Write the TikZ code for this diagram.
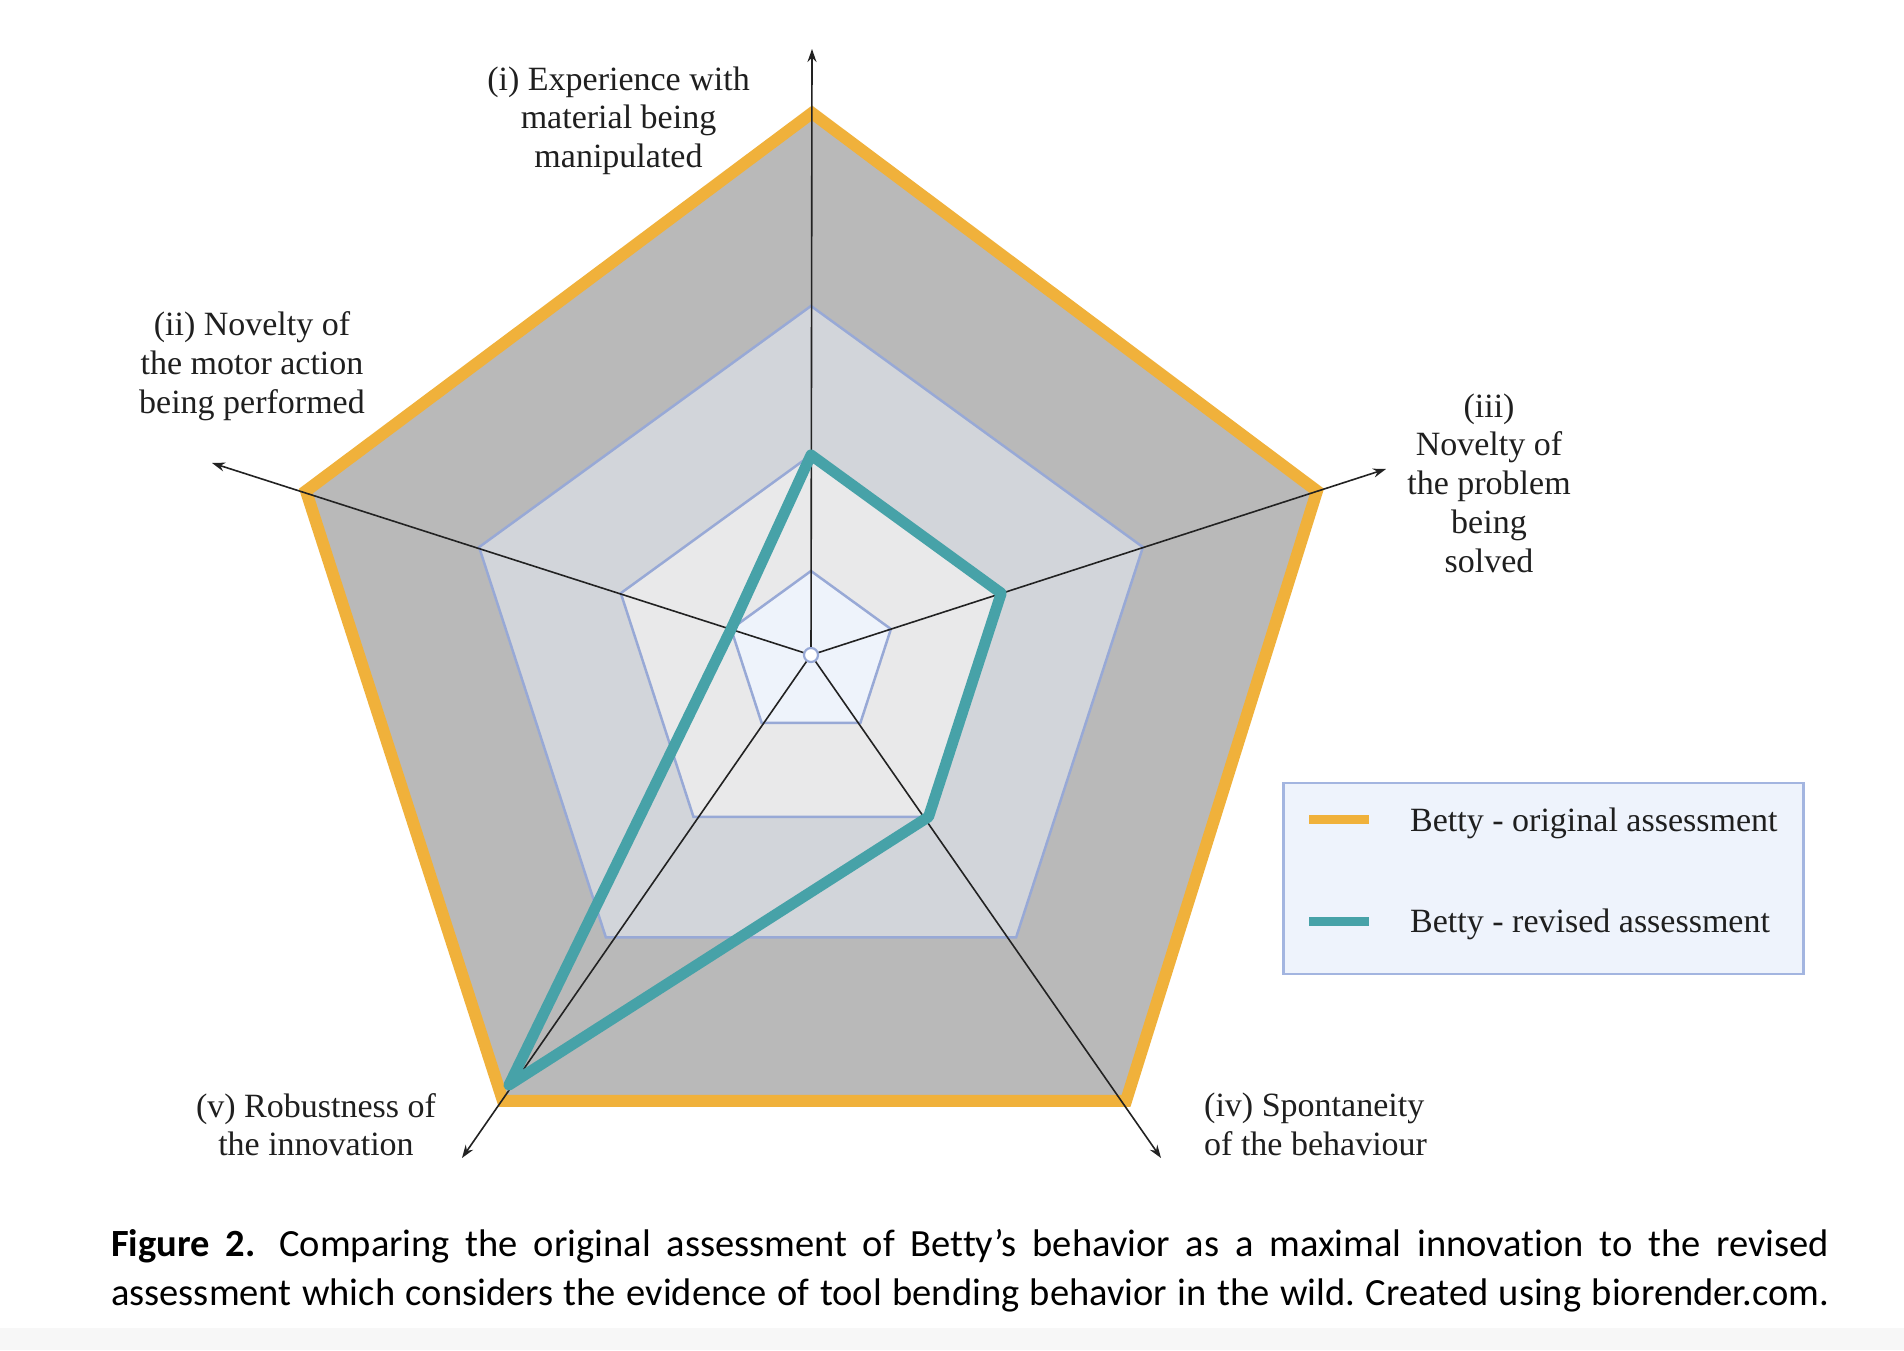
\documentclass[tikz,border=0pt]{standalone}
\usepackage{fontspec}
\setmainfont{Liberation Serif}
\newfontfamily\capfont[Ligatures=NoCommon]{Carlito}
\usetikzlibrary{arrows.meta,calc}
\definecolor{outerfill}{HTML}{B9B9B9}
\definecolor{ringthree}{HTML}{D2D5DA}
\definecolor{ringtwo}{HTML}{E9E9EA}
\definecolor{ringone}{HTML}{EEF3FB}
\definecolor{ringline}{HTML}{98A9D6}
\definecolor{origc}{HTML}{F0B13B}
\definecolor{revc}{HTML}{47A2A8}
\definecolor{legfill}{HTML}{EEF3FC}
\definecolor{legline}{HTML}{A3B5E0}
\definecolor{axisc}{HTML}{222222}
\definecolor{bandc}{HTML}{F7F7F7}
\frenchspacing
\begin{document}
\begin{tikzpicture}[x=1pt,y=1pt,
  ring/.style={draw=ringline,line width=2.5pt,line join=miter},
  axisline/.style={draw=axisc,line width=1.6pt,-{Stealth[length=13pt,width=9pt]}},
  origline/.style={draw=origc,line width=12pt,line join=miter},
  revline/.style={draw=revc,line width=11pt,line join=round},
  axlabel/.style={font=\fontsize{34}{38.7}\selectfont,inner sep=0pt,anchor=north,align=center,text=black!88},
  legtext/.style={font=\fontsize{34}{40}\selectfont,inner sep=0pt,anchor=base west,text=black!88},
  legbox/.style={draw=legline,fill=legfill,line width=2.5pt,inner sep=0pt,anchor=north west},
  capline/.style={font=\capfont\fontsize{38.5}{48}\selectfont,inner sep=0pt,anchor=base west}]
\useasboundingbox (0,0) rectangle (1904,1350);
\fill[white] (0,0) rectangle (1904,1350);
\fill[bandc] (0,0) rectangle (1904,22);
\coordinate (c) at (811,695);
\foreach \n/\r in {t/349,s/200,f/84}{
  \foreach \k/\a in {1/90,2/162,3/18,4/306,5/234}{
    \coordinate (\n\k) at ($(c)+(\a:\r)$);
  }
}
% outer pentagon (maximal values)
\coordinate (o1) at (812,1237);
\coordinate (o2) at (306,859);
\coordinate (o3) at (1317,859);
\coordinate (o4) at (1126,249);
\coordinate (o5) at (503,249);
% axis tips
\coordinate (x1) at (812,1301);
\coordinate (x2) at (212,887);
\coordinate (x3) at (1386,881);
\coordinate (x4) at (1161,192);
\coordinate (x5) at (462,192);
\coordinate (r5) at (509,265);
% rings
\fill[outerfill] (o1)--(o3)--(o4)--(o5)--(o2)--cycle;
\path[fill=ringthree,ring] (t1)--(t3)--(t4)--(t5)--(t2)--cycle;
\path[fill=ringtwo,ring] (s1)--(s3)--(s4)--(s5)--(s2)--cycle;
\path[fill=ringone,ring] (f1)--(f3)--(f4)--(f5)--(f2)--cycle;
% original assessment
\path[origline] (o1)--(o3)--(o4)--(o5)--(o2)--cycle;
% axes
\node[circle,draw=ringline,fill=white,line width=2.2pt,minimum size=14pt,inner sep=0pt] (ctr) at (c) {};
\foreach \k in {1,...,5}{\draw[axisline] (ctr) -- (x\k);}
% revised assessment
\path[revline] (s1)--(s3)--(s4)--(r5)--(f2)--cycle;
% labels
\node[axlabel] (li) at (618.5,1283.5) {(i) Experience with\\material being\\manipulated};
\node[axlabel] (lii) at (252,1038.5) {(ii) Novelty of\\the motor action\\being performed};
\node[axlabel] (liii) at (1489,956.5) {(iii)\\Novelty of\\the problem\\being\\solved};
\node[axlabel,anchor=north west,align=left] (liv) at (1204,257) {(iv) Spontaneity\\of the behaviour};
\node[axlabel] (lv) at (316,257) {(v) Robustness of\\the innovation};
% legend
\node[legbox,minimum width=520pt,minimum height=191pt] (leg) at (1282,568) {};
\coordinate (lo1) at (1309,530);
\coordinate (lo2) at (1369,530);
\coordinate (lr1) at (1309,428);
\coordinate (lr2) at (1369,428);
\draw[origline,line width=9pt] (lo1) -- (lo2);
\draw[revline,line join=miter,line width=9pt] (lr1) -- (lr2);
\node[legtext] (lgo) at (1410,518) {Betty - original assessment};
\node[legtext] (lgr) at (1410,417) {Betty - revised assessment};
% caption
\node[capline] (cap1) at (111,93) {\makebox[1718pt][s]{\textbf{Figure 2.}\hspace{8pt} Comparing the original assessment of Betty’s behavior as a maximal innovation to the revised}};
\node[capline] (cap2) at (111,45) {\makebox[1718pt][s]{assessment which considers the evidence of tool bending behavior in the wild. Created using biorender.com.}};
\end{tikzpicture}
\end{document}
